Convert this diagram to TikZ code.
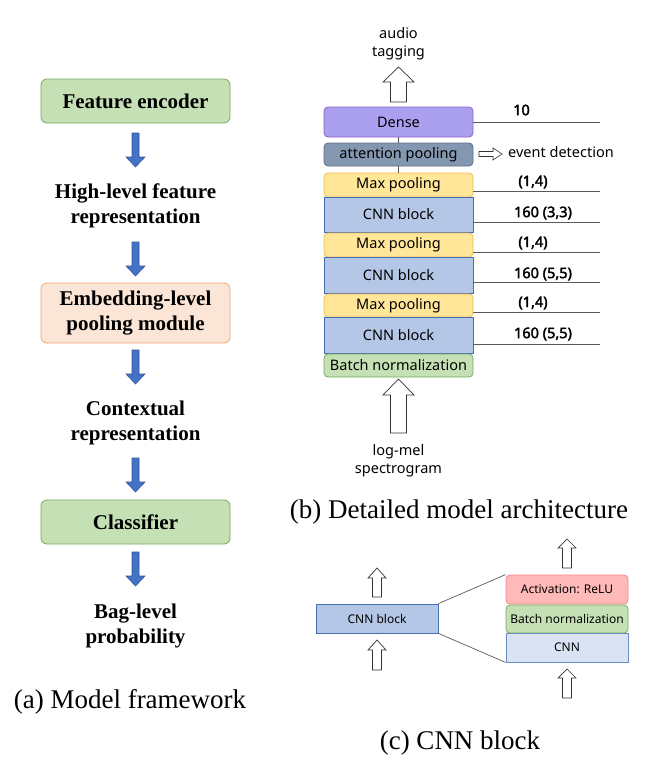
\documentclass[tikz,border=0pt]{standalone}
\usepackage{fontspec}
\setmainfont{Liberation Serif}
\newfontfamily\ns{Noto Sans}
\newfontfamily\nsfb[FakeBold=2.5]{Noto Sans}
\definecolor{gfill}{RGB}{197,224,180}
\definecolor{gdraw}{RGB}{120,170,95}
\definecolor{ofill}{RGB}{251,229,214}
\definecolor{odraw}{RGB}{244,164,112}
\definecolor{bfill}{RGB}{68,114,196}
\definecolor{bdraw}{RGB}{47,85,151}
\definecolor{dfill}{RGB}{171,160,240}
\definecolor{ddraw}{RGB}{145,95,200}
\definecolor{afill}{RGB}{132,151,176}
\definecolor{adraw}{RGB}{95,111,132}
\definecolor{yfill}{RGB}{255,230,153}
\definecolor{ydraw}{RGB}{238,190,85}
\definecolor{cfill}{RGB}{180,199,231}
\definecolor{cdraw}{RGB}{70,110,180}
\definecolor{rfill}{RGB}{255,185,185}
\definecolor{rdraw}{RGB}{240,135,135}
\definecolor{lfill}{RGB}{218,227,243}
\definecolor{ldraw}{RGB}{108,142,191}
\definecolor{lgray}{RGB}{90,90,90}
\newcommand\hup[6]{%
  \draw[harrow] (#1-#6,#4) -- (#1-#6,#3) -- (#1-#5,#3) -- (#1,#2) -- (#1+#5,#3) -- (#1+#6,#3) -- (#1+#6,#4) -- cycle;}
\newcommand\bdown[2]{%
  \draw[barrow] (#1-3.5,#2) -- (#1+3.5,#2) -- (#1+3.5,#2+24) -- (#1+9.5,#2+24) -- (#1,#2+34) -- (#1-9.5,#2+24) -- (#1-3.5,#2+24) -- cycle;}
\begin{document}
\begin{tikzpicture}[x=1pt,y=-1pt,
  abox/.style={draw=gdraw,fill=gfill,line width=0.8pt,rounded corners=6pt,minimum width=189pt,align=center,font=\fontsize{21}{25}\selectfont\bfseries,inner sep=0pt},
  albl/.style={align=center,font=\fontsize{21}{25}\selectfont\bfseries,inner sep=0pt},
  bbox/.style={line width=0.8pt,minimum width=149pt,inner sep=0pt,font=\ns\fontsize{14.5}{16}\selectfont},
  cbox/.style={line width=0.8pt,minimum width=122pt,inner sep=0pt,font=\ns\fontsize{12}{14}\selectfont},
  nlbl/.style={inner sep=0pt,font=\nsfb\fontsize{14.5}{16}\selectfont},
  slbl/.style={inner sep=0pt,align=center,font=\ns\fontsize{14.5}{18}\selectfont},
  captxt/.style={inner sep=0pt,font=\fontsize{27}{30}\selectfont},
  rline/.style={draw=lgray,line width=0.8pt},
  harrow/.style={draw=black!80,fill=white,line width=0.7pt},
  barrow/.style={draw=bdraw,fill=bfill,line width=0.6pt}]
\useasboundingbox (0,0) rectangle (646,771);
% ---------- (a) ----------
\node[abox,minimum height=44pt] (fe) at (135.5,101) {Feature encoder};
\node[albl] (hl) at (135.5,205.5) {High-level feature\\representation};
\node[abox,draw=odraw,fill=ofill,minimum height=60pt] (emb) at (135.5,313) {Embedding-level\\pooling module};
\node[albl] (ctx) at (135.5,422.5) {Contextual\\representation};
\node[abox,minimum height=44pt] (cls) at (135.5,522) {Classifier};
\node[albl] (bag) at (135.5,625.5) {Bag-level\\probability};
\bdown{135.5}{133}
\bdown{135.5}{242}
\bdown{135.5}{350}
\bdown{135.5}{458}
\bdown{135.5}{552}
\node[captxt] (capa) at (130,702) {(a) Model framework};
% ---------- (b) ----------
\node[slbl] (tag) at (398.5,44) {audio\\tagging};
\hup{398.5}{67}{82}{102}{15.5}{8}
\node[bbox,draw=ddraw,fill=dfill,rounded corners=4pt,minimum height=30pt] (dense) at (398.5,122) {Dense};
\node[bbox,draw=adraw,fill=afill,rounded corners=4pt,minimum height=23pt] (att) at (398.5,154.5) {attention pooling};
\node[bbox,draw=ydraw,fill=yfill,rounded corners=4pt,minimum height=24pt] (mp1) at (398.5,185) {Max pooling};
\node[bbox,draw=cdraw,fill=cfill,minimum height=35pt] (cnn1) at (398.5,214.5) {CNN block};
\node[bbox,draw=ydraw,fill=yfill,rounded corners=4pt,minimum height=24pt] (mp2) at (398.5,245) {Max pooling};
\node[bbox,draw=cdraw,fill=cfill,minimum height=36pt] (cnn2) at (398.5,275) {CNN block};
\node[bbox,draw=ydraw,fill=yfill,rounded corners=4pt,minimum height=23pt] (mp3) at (398.5,305.5) {Max pooling};
\node[bbox,draw=cdraw,fill=cfill,minimum height=36pt] (cnn3) at (398.5,335) {CNN block};
\node[bbox,draw=gdraw,fill=gfill,rounded corners=4pt,minimum height=23pt] (bn) at (398.5,365.5) {Batch normalization};
\draw[lgray,line width=0.7pt] (dense.south) -- (att.north);
\draw[lgray,line width=0.7pt] (att.south) -- (mp1.north);
\coordinate (e1) at (600,122);
\coordinate (e2) at (600,191);
\coordinate (e3) at (600,222);
\coordinate (e4) at (600,252);
\coordinate (e5) at (600,282);
\coordinate (e6) at (600,312);
\coordinate (e7) at (600,344);
\draw[rline] (dense.east |- e1) -- (e1);
\draw[rline] (mp1.east |- e2) -- (e2);
\draw[rline] (cnn1.east |- e3) -- (e3);
\draw[rline] (mp2.east |- e4) -- (e4);
\draw[rline] (cnn2.east |- e5) -- (e5);
\draw[rline] (mp3.east |- e6) -- (e6);
\draw[rline] (cnn3.east |- e7) -- (e7);
\node[nlbl] (l1) at (521.5,110) {10};
\node[nlbl] (l2) at (533,182) {(1,4)};
\node[nlbl] (l3) at (543,213) {160 (3,3)};
\node[nlbl] (l4) at (533,243) {(1,4)};
\node[nlbl] (l5) at (543,274) {160 (5,5)};
\node[nlbl] (l6) at (533,303) {(1,4)};
\node[nlbl] (l7) at (543,334) {160 (5,5)};
\draw[harrow,line width=0.6pt] (479,151.5) -- (493,151.5) -- (493,148) -- (502,154) -- (493,160) -- (493,156.5) -- (479,156.5) -- cycle;
\node[slbl,anchor=west] (ev) at (508,152) {event detection};
\hup{398.5}{379}{395}{433}{15.5}{8}
\node[slbl] (lm) at (398.5,461) {log-mel\\spectrogram};
\node[captxt] (capb) at (459,512) {(b) Detailed model architecture};
% ---------- (c) ----------
\node[cbox,draw=cdraw,fill=cfill,minimum height=29pt] (cb) at (377,618.5) {CNN block};
\node[cbox,draw=rdraw,fill=rfill,rounded corners=4pt,minimum height=29pt] (act) at (567,589.5) {Activation: ReLU};
\node[cbox,draw=gdraw,fill=gfill,rounded corners=4pt,minimum height=28pt] (bnc) at (567,619) {Batch normalization};
\node[cbox,draw=ldraw,fill=lfill,minimum height=29pt] (cnnc) at (567,647.5) {CNN};
\draw[lgray,line width=0.7pt] (cb.north east) -- (act.north west);
\draw[lgray,line width=0.7pt] (cb.south east) -- (cnnc.south west);
\hup{377}{568}{578}{597}{9}{4.5}
\hup{377}{640}{650}{670}{9}{4.5}
\hup{567}{539}{548}{568}{9}{4.5}
\hup{567}{669}{678}{698}{9}{4.5}
\node[captxt] (capc) at (460,743) {(c) CNN block};
\end{tikzpicture}
\end{document}
